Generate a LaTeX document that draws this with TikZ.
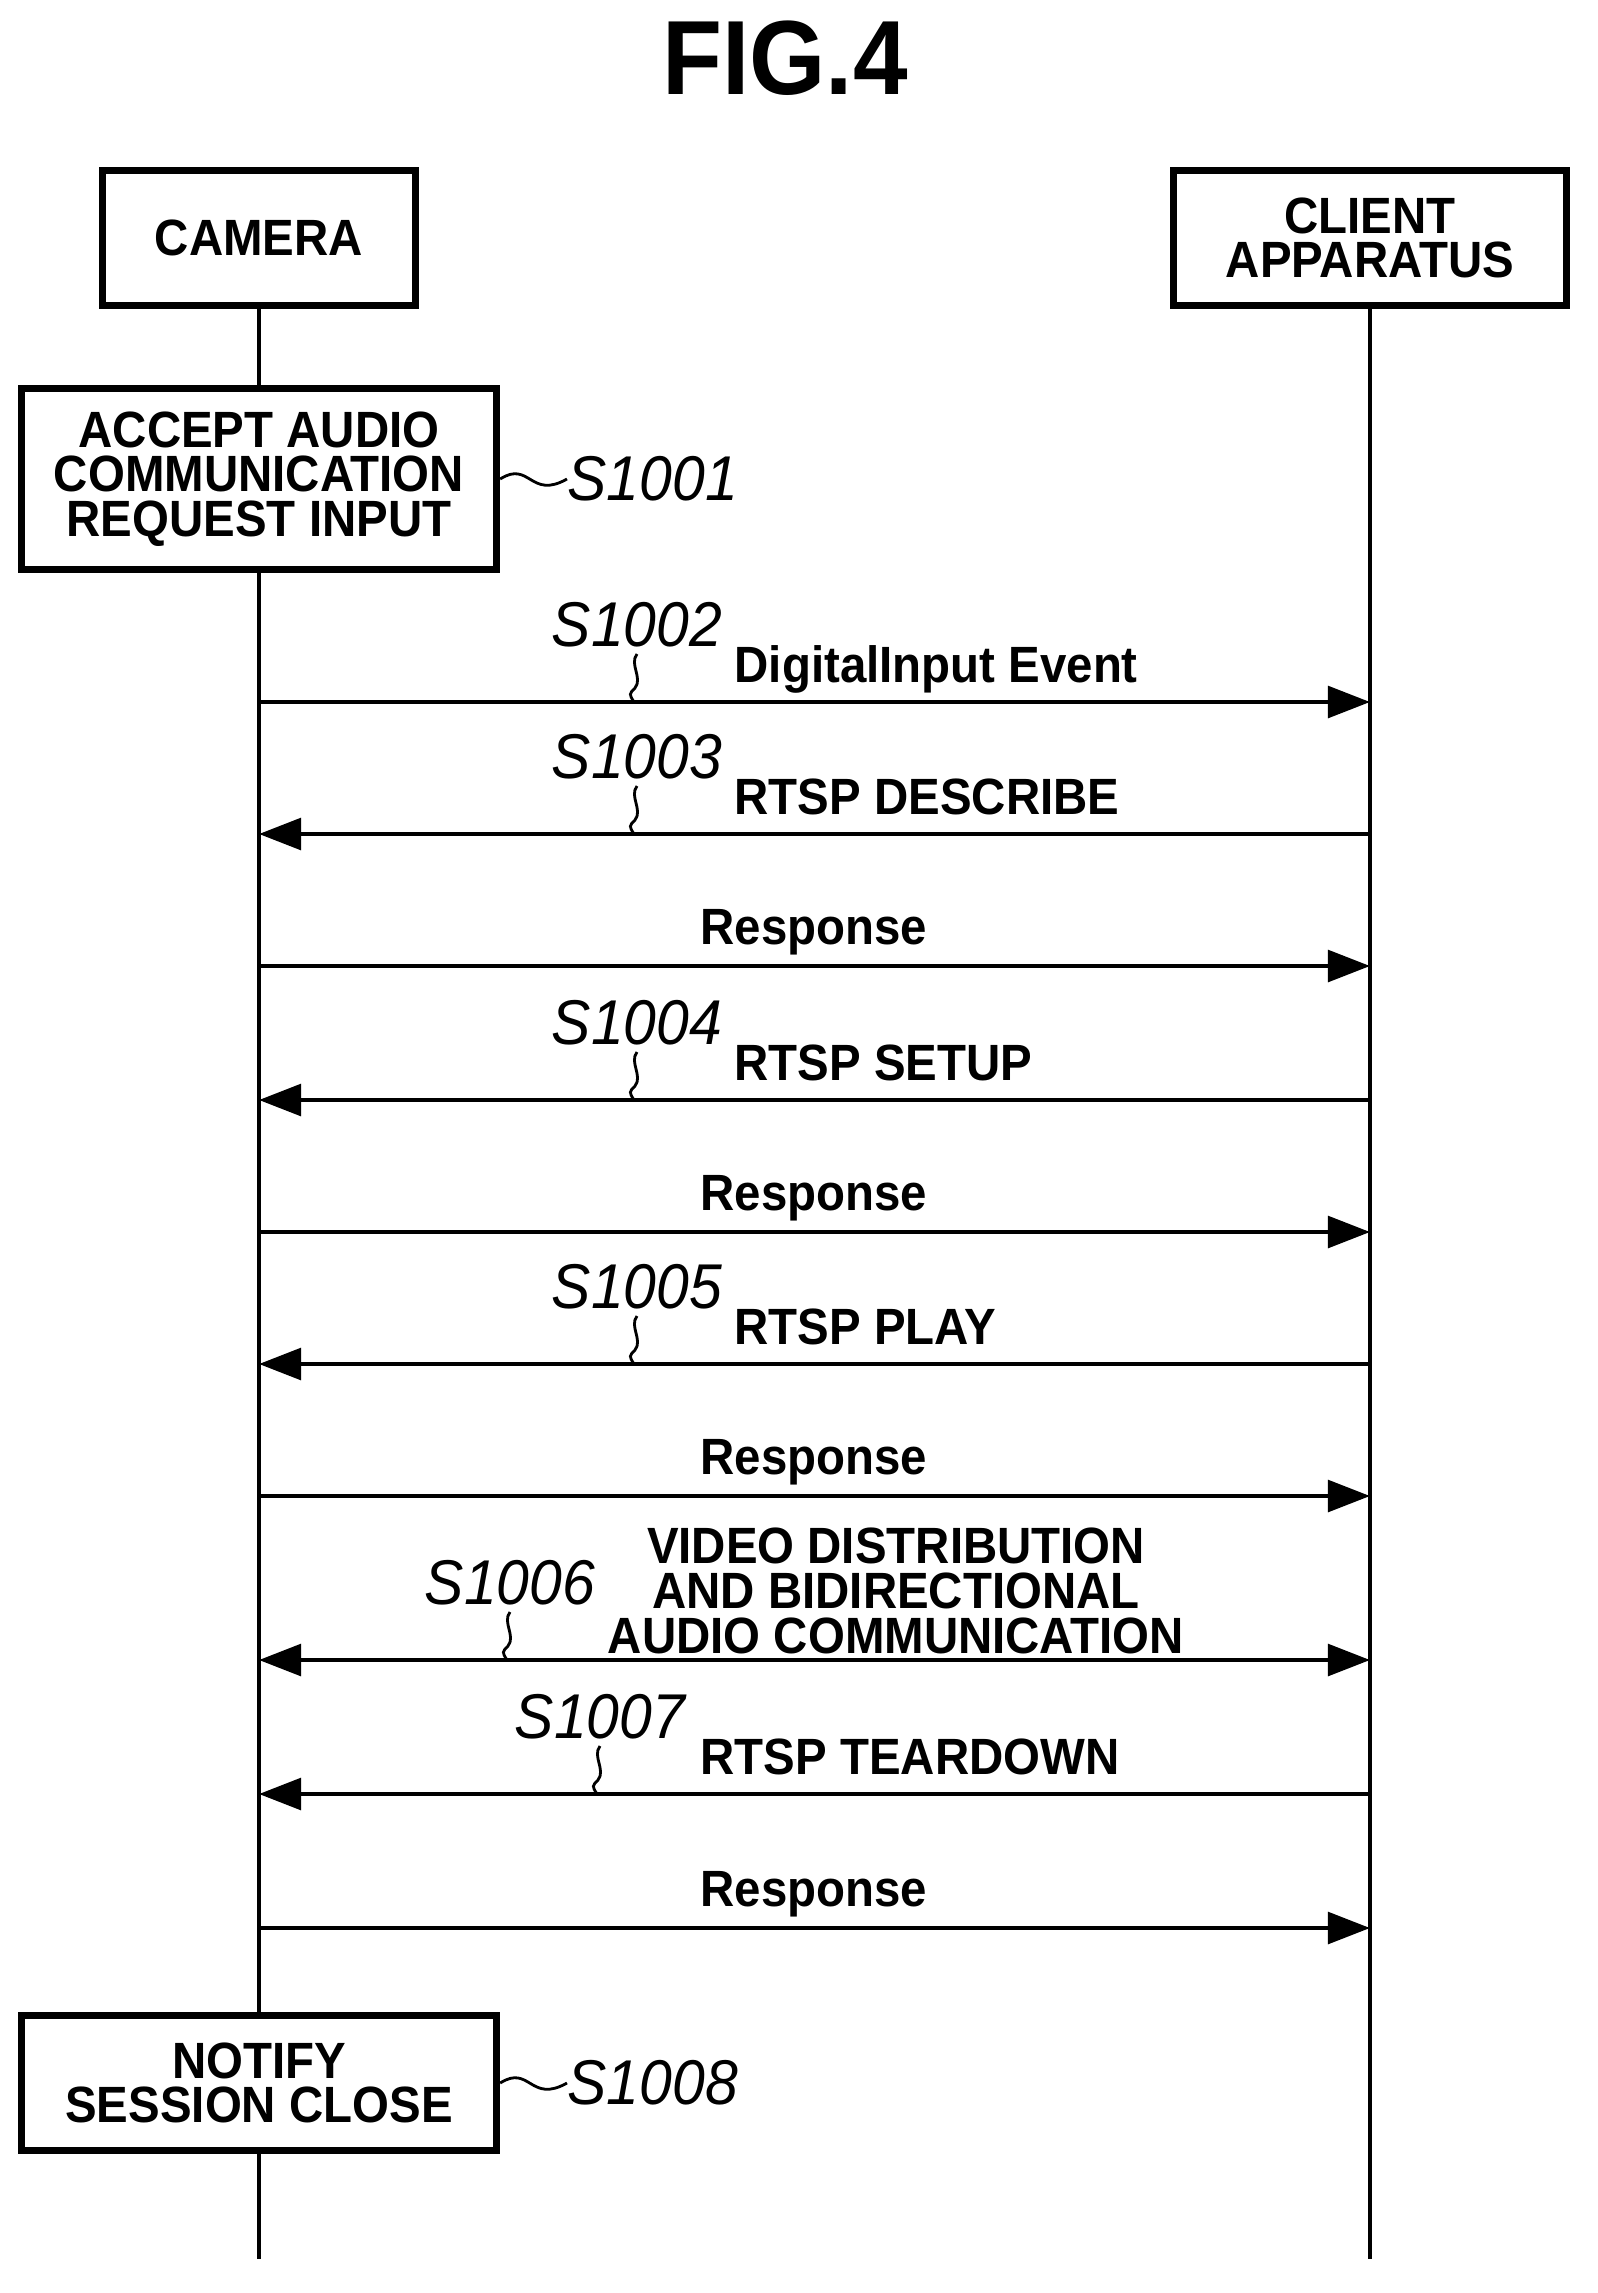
\documentclass[tikz,border=0pt]{standalone}
\usepackage{fontspec}
\setmainfont{Liberation Sans}[FakeStretch=0.93]
\usetikzlibrary{arrows.meta,positioning}

\tikzset{
  box/.style={draw, line width=2pt, fill=white, align=center, font=\bfseries\fontsize{14.5}{12.6}\selectfont},
  msg/.style={line width=1.2pt, -{Triangle[length=12pt,width=9pt]}},
  dmsg/.style={line width=1.2pt, {Triangle[length=12pt,width=9pt]}-{Triangle[length=12pt,width=9pt]}},
  lbl/.style={font=\bfseries\fontsize{14.5}{12.8}\selectfont, inner sep=0pt},
  stepno/.style={font=\itshape\fontsize{18}{18}\selectfont, inner sep=0pt},
  wig/.style={line width=0.8pt}
}

\begin{document}
\begin{tikzpicture}[x=0.01cm,y=-0.01cm]
  \useasboundingbox (0,0) rectangle (1598,2293);

  \node[font=\bfseries\fontsize{30}{30}\selectfont] (title) at (785,58) {FIG.4};

  % lifeline heads
  \node[box, minimum width=3.13cm, minimum height=1.35cm] (cam) at (259,238) {CAMERA};
  \node[box, minimum width=3.92cm, minimum height=1.35cm] (cli) at (1370,238) {CLIENT\\APPARATUS};

  \coordinate (camend) at (259,2259);
  \coordinate (cliend) at (1370,2259);
  \draw[line width=1.2pt] (cam.south) -- (camend);
  \draw[line width=1.2pt] (cli.south) -- (cliend);

  % camera side processes
  \node[box, minimum width=4.75cm, minimum height=1.8cm] (p1) at (259,479) {ACCEPT AUDIO\\COMMUNICATION\\REQUEST INPUT};
  \node[stepno, anchor=west] (s1) at (567,479) {S1001};
  \draw[wig] (p1.east) .. controls (530,460) and (530,500) .. (s1.west);

  \node[box, minimum width=4.75cm, minimum height=1.35cm] (p8) at (259,2083) {NOTIFY\\SESSION CLOSE};
  \node[stepno, anchor=west] (s8) at (567,2083) {S1008};
  \draw[wig] (p8.east) .. controls (530,2064) and (530,2104) .. (s8.west);

  % messages
  \foreach \i/\y in {1/702,2/834,3/966,4/1100,5/1232,6/1364,7/1496,8/1660,9/1794,10/1928}{
    \coordinate (ca\i) at (259,\y);
    \coordinate (cl\i) at (1370,\y);
  }
  \draw[msg] (ca1) -- (cl1);
  \draw[msg] (cl2) -- (ca2);
  \draw[msg] (ca3) -- (cl3);
  \draw[msg] (cl4) -- (ca4);
  \draw[msg] (ca5) -- (cl5);
  \draw[msg] (cl6) -- (ca6);
  \draw[msg] (ca7) -- (cl7);
  \draw[dmsg] (ca8) -- (cl8);
  \draw[msg] (cl9) -- (ca9);
  \draw[msg] (ca10) -- (cl10);

  \node[lbl, anchor=base west] (m1) at (734,682) {DigitalInput Event};
  \node[lbl, anchor=base west] (m2) at (734,814) {RTSP DESCRIBE};
  \node[lbl, anchor=base] (m3) at (814,944) {Response};
  \node[lbl, anchor=base west] (m4) at (734,1080) {RTSP SETUP};
  \node[lbl, anchor=base] (m5) at (814,1210) {Response};
  \node[lbl, anchor=base west] (m6) at (734,1344) {RTSP PLAY};
  \node[lbl, anchor=base] (m7) at (814,1474) {Response};
  \node[lbl, align=center] (m8) at (896,1591)
    {VIDEO DISTRIBUTION\\AND BIDIRECTIONAL\\AUDIO COMMUNICATION};
  \node[lbl, anchor=base west] (m9) at (700,1774) {RTSP TEARDOWN};
  \node[lbl, anchor=base] (m10) at (814,1906) {Response};

  % step labels with leaders
  \foreach \s/\x/\y in {1002/637/702,1003/637/834,1004/637/1100,1005/637/1364,1006/510/1660,1007/600/1794}{
    \node[stepno] (st\s) at (\x,\y-77) {S\s};
    \coordinate (sw\s) at (\x-3,\y);
    \draw[wig] (\x,\y-48) .. controls (\x-8,\y-38) and (\x+6,\y-24) .. (\x-2,\y-14)
                          .. controls (\x-8,\y-8) .. (sw\s);
  }
\end{tikzpicture}
\end{document}
